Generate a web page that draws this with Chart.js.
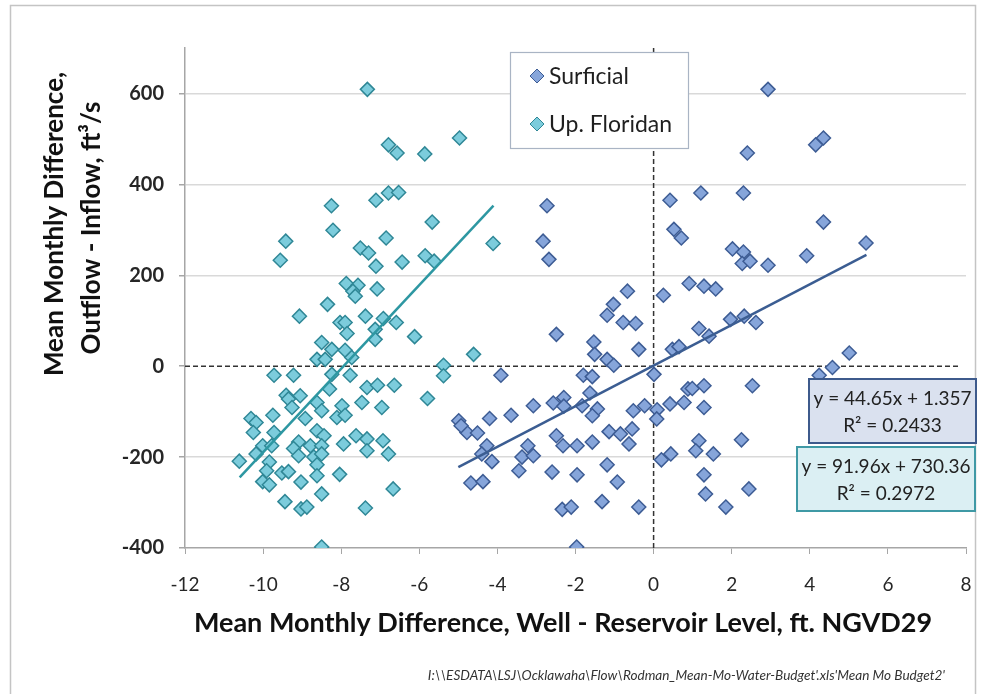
<!DOCTYPE html>
<html>
<head>
<meta charset="utf-8">
<title>Rodman Mean Monthly Water Budget</title>
<script src="https://cdn.jsdelivr.net/npm/chart.js@4.4.0/dist/chart.umd.min.js"></script>
<style>
    html, body { margin: 0; padding: 0; background: #fff; }
    canvas { display: block; }
</style>
</head>
<body>
<canvas id="budgetChart" width="981" height="694"></canvas>
<script>
// well - reservoir level difference (ft) vs outflow - inflow difference (ft3/s)
var surficialX = [-2.73, -2.83, -2.68, 0.42, 1.21, 0.52, 0.71, -0.67, -1.03, 0.25, 0.91, 1.29, 1.59,
    2.93, 4.15, 4.35, 2.40, 2.30, 4.35, 5.44, 2.02, 2.30, 2.27, 2.47, 2.93, 3.92,
    -1.19, -0.78, -0.46, -2.49, -1.53, -1.51, -1.19, -1.02, -0.38, -1.80, -1.57, -3.91, 0.01, 0.48,
    0.65, 1.16, 1.42, -1.63, -2.30, -2.57, -2.30, -3.08, -1.83, -1.44, -1.57, -0.52, -0.23, 0.09,
    0.08, 0.42, 0.78, 0.88, 0.99, 1.29, 1.29, -4.99, -4.78, -4.51, -4.93, -4.20, -3.65, -4.27,
    -4.40, -4.14, -4.68, -4.37, -3.22, -3.37, -3.08, -3.45, -2.49, -2.32, -1.96, -1.57, -2.60,
    -1.96, -1.19, -0.93, -1.14, -0.85, -0.63, -0.55, -2.34, -2.11, -1.32, -0.38, -1.97, 0.20,
    0.44, 1.16, 1.08, 1.53, 1.29, 1.33, 1.97, 2.32, 2.62, 5.01, 4.58, 4.24, 2.53, 2.25, 1.85, 2.44];
var surficialY = [353, 275, 235, 365, 381, 301, 282, 165, 136, 156, 182, 176, 170,
    609, 487, 502, 469, 381, 317, 271, 258, 251, 226, 231, 222, 243,
    112, 96, 94, 70, 53, 26, 15, 2, 37, -20, -23, -20, -18, 37,
    43, 83, 66, -59, -69, -81, -88, -87, -87, -94, -109, -98, -87, -96,
    -116, -83, -80, -50, -49, -43, -91, -120, -146, -147, -131, -115, -108, -175,
    -193, -210, -257, -254, -175, -200, -197, -230, -153, -175, -175, -167, -233,
    -239, -217, -255, -144, -149, -171, -138, -315, -310, -298, -310, -398, -206,
    -193, -164, -186, -193, -239, -281, 103, 110, 96, 29, -3, -20, -43, -162, -310, -270];

var floridanX = [-7.33, -4.97, -6.79, -6.57, -5.86, -8.25, -7.11, -6.79, -6.53, -5.67, -8.21, -6.85,
    -9.42, -9.56, -7.51, -7.30, -7.11, -6.44, -5.85, -5.62, -7.87, -7.57, -7.70, -7.64, -7.08, -8.35,
    -9.07, -7.38, -8.03, -7.90, -6.92, -6.59, -6.12, -7.13, -7.85, -7.13, -8.50, -8.24, -7.90,
    -8.62, -8.41, -7.73, -5.38, -5.38, -9.72, -9.22, -8.24, -7.77, -7.34, -7.07, -6.64, -8.30,
    -9.41, -9.05, -9.35, -8.62, -7.47, -5.79, -7.98, -9.26, -8.50, -6.96, -9.75, -10.31, -10.18,
    -8.92, -8.11, -7.90, -10.25, -9.72, -8.62, -8.44, -7.62, -7.34, -6.93, -9.09, -8.79, -9.22,
    -8.50, -7.94, -10.01, -9.78, -7.34, -6.79, -10.18, -9.09, -8.70, -8.50, -10.61, -9.84, -8.62,
    -9.91, -9.52, -9.35, -8.62, -8.04, -10.01, -9.84, -9.03, -6.67, -8.50, -9.44, -9.03, -8.88,
    -7.38, -8.50, -4.11, -4.61];
var floridanY = [609, 502, 487, 469, 467, 353, 365, 381, 382, 317, 299, 282,
    275, 233, 260, 249, 220, 229, 243, 231, 182, 178, 165, 154, 170, 136,
    110, 110, 96, 96, 105, 96, 65, 81, 72, 59, 52, 37, 35,
    15, 15, 19, 2, -21, -20, -20, -18, -20, -47, -42, -42, -50,
    -64, -65, -72, -80, -80, -71, -87, -91, -98, -91, -108, -115, -124,
    -115, -113, -108, -146, -146, -142, -153, -153, -160, -164, -167, -175, -181,
    -175, -171, -175, -175, -186, -193, -193, -197, -200, -193, -209, -211, -217,
    -230, -235, -232, -241, -238, -254, -261, -255, -270, -281, -298, -314, -310,
    -312, -398, 270, 26];

// linear trendlines: [slope, intercept, xStart, xEnd]
var surficialFit = [44.65, 1.357, -5.0, 5.45];
var floridanFit = [91.96, 730.36, -10.6, -4.1];
var surficialR2 = 0.2433;
var floridanR2 = 0.2972;

var xTicks = [-12, -10, -8, -6, -4, -2, 0, 2, 4, 6, 8];
var yTicks = [-400, -200, 0, 200, 400, 600];

var seriesNames = ['Surficial', 'Up. Floridan'];

var surfFill = '#86a5da', surfEdge = '#3d5c94', surfLine = '#3b5d92';
var florFill = '#7cccdc', florEdge = '#2f8796', florLine = '#2d97a2';

function toPoints(xs, ys) {
    return xs.map(function (x, i) { return { x: x, y: ys[i] }; });
}

function fitLine(f) {
    return [{ x: f[2], y: f[0] * f[2] + f[1] }, { x: f[3], y: f[0] * f[3] + f[1] }];
}

function fmtEq(f) {
    return 'y = ' + f[0].toFixed(2) + 'x + ' + f[1];
}

var font = 'Lato, "Open Sans", sans-serif';

// frame, legend, equation boxes, axis titles and source path
var decorations = {
    id: 'decorations',
    beforeDraw: function (chart) {
        var c = chart.ctx;
        c.save();
        c.fillStyle = '#fff';
        c.fillRect(0, 0, chart.width, chart.height);
        c.strokeStyle = '#c4c4c4';
        c.lineWidth = 1.5;
        c.strokeRect(10.5, 5.5, 965, 700);
        c.restore();
    },
    afterDraw: function (chart) {
        var c = chart.ctx;
        c.save();

        // legend
        c.fillStyle = '#fff';
        c.fillRect(510, 52, 178, 96);
        c.strokeStyle = '#a9b4c4';
        c.lineWidth = 1.2;
        c.strokeRect(510.5, 52.5, 178, 96);
        var items = [[seriesNames[0], surfFill, surfEdge, 76], [seriesNames[1], florFill, florEdge, 124]];
        items.forEach(function (it) {
            c.beginPath();
            c.moveTo(530, it[3]);
            c.lineTo(537, it[3] - 7);
            c.lineTo(544, it[3]);
            c.lineTo(537, it[3] + 7);
            c.closePath();
            c.fillStyle = it[1];
            c.fill();
            c.strokeStyle = it[2];
            c.lineWidth = 1;
            c.stroke();
            c.fillStyle = '#1f1f1f';
            c.font = '23px ' + font;
            c.textAlign = 'left';
            c.textBaseline = 'middle';
            c.fillText(it[0], 549, it[3] + 1);
        });

        // equation boxes
        var boxes = [
            [809, 379, 167, 64, '#dae1ef', '#3d5a8c', fmtEq(surficialFit), 'R\u00b2 = ' + surficialR2],
            [797, 447, 178, 64, '#dbeff3', '#3f99a5', fmtEq(floridanFit), 'R\u00b2 = ' + floridanR2]
        ];
        boxes.forEach(function (b) {
            c.fillStyle = b[4];
            c.fillRect(b[0], b[1], b[2], b[3]);
            c.strokeStyle = b[5];
            c.lineWidth = 2;
            c.strokeRect(b[0], b[1], b[2], b[3]);
            c.fillStyle = '#222';
            c.font = '19px ' + font;
            c.textAlign = 'center';
            c.textBaseline = 'middle';
            var cx = b[0] + b[2] / 2;
            c.fillText(b[6], cx, b[1] + 20);
            c.fillText(b[7], cx, b[1] + 47);
        });

        // y axis title, two lines
        c.fillStyle = '#111';
        c.font = 'bold 26px ' + font;
        c.textAlign = 'center';
        c.textBaseline = 'middle';
        c.save();
        c.translate(55, 224);
        c.rotate(-Math.PI / 2);
        c.fillText('Mean Monthly Difference,', 0, 0);
        c.fillText('Outflow - Inflow, ft\u00b3/s', -4, 37);
        c.restore();

        // x axis title
        c.font = 'bold 27px ' + font;
        c.fillText('Mean Monthly Difference, Well - Reservoir Level, ft. NGVD29', 563, 623);

        // source file path
        c.font = 'italic 13.6px ' + font;
        c.fillStyle = '#333';
        c.textAlign = 'right';
        c.fillText("I:\\\\ESDATA\\LSJ\\Ocklawaha\\Flow\\Rodman_Mean-Mo-Water-Budget'.xls'Mean Mo Budget2'", 945, 676);

        c.restore();
    }
};

var ctx = document.getElementById('budgetChart').getContext('2d');

new Chart(ctx, {
    type: 'scatter',
    data: {
        datasets: [{
            label: 'Surficial trend',
            type: 'line',
            data: fitLine(surficialFit),
            borderColor: surfLine,
            borderWidth: 2.5,
            pointRadius: 0,
            fill: false
        }, {
            label: 'Up. Floridan trend',
            type: 'line',
            data: fitLine(floridanFit),
            borderColor: florLine,
            borderWidth: 2.5,
            pointRadius: 0,
            fill: false
        }, {
            label: seriesNames[0],
            data: toPoints(surficialX, surficialY),
            pointStyle: 'rectRot',
            pointRadius: 7,
            backgroundColor: surfFill,
            borderColor: surfEdge,
            borderWidth: 1.5
        }, {
            label: seriesNames[1],
            data: toPoints(floridanX, floridanY),
            pointStyle: 'rectRot',
            pointRadius: 7,
            backgroundColor: florFill,
            borderColor: florEdge,
            borderWidth: 1.5
        }, {
            label: 'zero flow',
            type: 'line',
            data: [{ x: -12, y: 0 }, { x: 7.8, y: 0 }],
            borderColor: '#333',
            borderWidth: 1.5,
            borderDash: [5, 3],
            pointRadius: 0
        }, {
            label: 'zero level',
            type: 'line',
            data: [{ x: 0, y: -400 }, { x: 0, y: 700 }],
            borderColor: '#333',
            borderWidth: 1.5,
            borderDash: [5, 3],
            pointRadius: 0
        }]
    },
    options: {
        responsive: false,
        devicePixelRatio: 1,
        animation: false,
        layout: {
            padding: { left: 0, right: 15, top: 48, bottom: 0 }
        },
        plugins: {
            legend: { display: false },
            tooltip: { enabled: false }
        },
        scales: {
            x: {
                type: 'linear',
                min: -12,
                max: 8,
                afterBuildTicks: function (s) { s.ticks = xTicks.map(function (v) { return { value: v }; }); },
                afterFit: function (s) {
                    s.height = 146;
                    s.paddingLeft = 0;
                    s.paddingRight = 0;
                },
                grid: {
                    drawOnChartArea: false,
                    drawTicks: true,
                    tickLength: 6,
                    color: '#a6a6a6'
                },
                border: { color: '#a6a6a6', width: 1.5 },
                ticks: {
                    font: { family: font, size: 19 },
                    color: '#262626',
                    padding: 19
                }
            },
            y: {
                type: 'linear',
                min: -400,
                max: 700,
                afterBuildTicks: function (s) { s.ticks = yTicks.map(function (v) { return { value: v }; }); },
                afterFit: function (s) { s.width = 185; },
                grid: {
                    color: function (c) {
                        return (c.tick && (c.tick.value === 0 || c.tick.value === -400)) ? 'rgba(0,0,0,0)' : '#d9d9d9';
                    },
                    lineWidth: 1.5,
                    tickColor: '#a6a6a6',
                    tickLength: 6
                },
                border: { color: '#a6a6a6', width: 1.5 },
                ticks: {
                    font: { family: font, size: 20, weight: 'bold' },
                    color: '#262626',
                    padding: 15
                }
            }
        }
    },
    plugins: [decorations]
});
</script>
</body>
</html>
